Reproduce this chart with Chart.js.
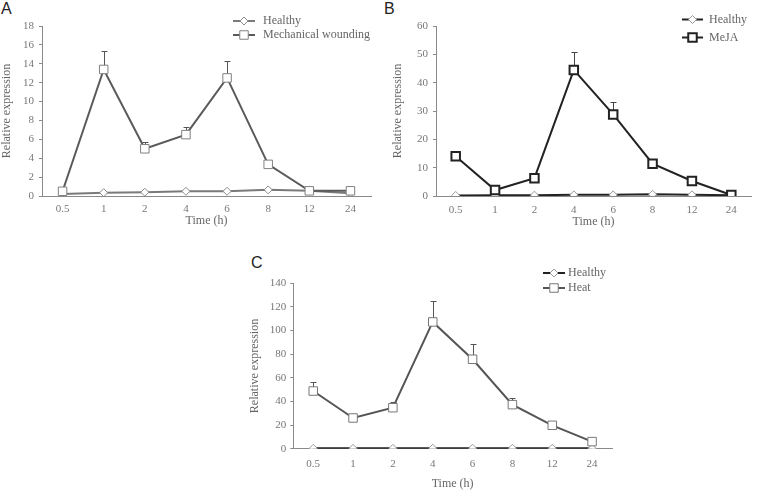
<!DOCTYPE html>
<html><head><meta charset="utf-8">
<script src="https://cdn.jsdelivr.net/npm/chart.js@4"></script>
<style>
html,body{margin:0;padding:0;background:#fff;width:759px;height:491px;overflow:hidden;position:relative}
canvas{position:absolute}
.lab{position:absolute;font-family:"Liberation Sans",Arial,sans-serif;font-size:16px;color:#222;line-height:1}
</style></head><body>
<div class="lab" style="left:1px;top:1px">A</div>
<div class="lab" style="left:384px;top:1px">B</div>
<div class="lab" style="left:251px;top:255px">C</div>
<canvas id="cA" width="380" height="240" style="left:0;top:0"></canvas>
<canvas id="cB" width="379" height="240" style="left:380px;top:0"></canvas>
<canvas id="cC" width="380" height="255" style="left:245px;top:240px"></canvas>
<script>
// ---- data ----
const times = ['0.5','1','2','4','6','8','12','24'];

const healthyA = [0.2, 0.35, 0.4, 0.5, 0.5, 0.65, 0.55, 0.3];
const woundA   = [0.5, 13.4, 5.0, 6.5, 12.5, 3.35, 0.55, 0.55];
const woundErrA = [0, 1.9, 0.75, 0.85, 1.8, 0.2, 0.05, 0.05];
const ticksA = {max: 18, step: 2};

const healthyB = [0.2, 0.3, 0.3, 0.4, 0.4, 0.6, 0.4, 0.3];
const mejaB    = [14, 2.1, 6.3, 44.5, 28.8, 11.4, 5.3, 0.35];
const mejaErrB = [2, 0.3, 0.4, 6.4, 4.3, 0.5, 0.3, 0.1];
const ticksB = {max: 60, step: 10};

const healthyC = [0.3, 0.3, 0.3, 0.4, 0.4, 0.4, 0.3, 0.3];
const heatC    = [48.8, 26, 34.7, 107.3, 75.7, 37.3, 19.8, 6];
const heatErrC = [7.4, 2.5, 5.1, 17.7, 12.7, 5.9, 0.8, 0.5];
const ticksC = {max: 140, step: 20};

// ---- plugins ----
const errPlugin = {
  id: 'errbars',
  beforeDatasetsDraw(chart) {
    const ctx = chart.ctx, y = chart.scales.y;
    chart.data.datasets.forEach((ds, i) => {
      if (!ds.errors) return;
      const meta = chart.getDatasetMeta(i);
      ctx.save();
      ctx.strokeStyle = ds.errColor;
      ctx.lineWidth = 1;
      meta.data.forEach((pt, j) => {
        const e = ds.errors[j];
        if (!e) return;
        const x = Math.round(pt.x) + 0.5;
        const top = Math.round(y.getPixelForValue(ds.data[j] + e)) + 0.5;
        const base = y.getPixelForValue(ds.data[j]);
        ctx.beginPath();
        ctx.moveTo(x, base); ctx.lineTo(x, top);
        ctx.moveTo(x - 3, top); ctx.lineTo(x + 3, top);
        ctx.stroke();
      });
      ctx.restore();
    });
  }
};

const legPlugin = {
  id: 'lgd',
  afterDraw(chart, args, o) {
    const ctx = chart.ctx;
    const ds = chart.data.datasets;
    const list = [ds[1], ds[0]];
    list.forEach((d, k) => {
      const y = o.rows[k];
      const cx = o.x + o.len / 2;
      ctx.save();
      ctx.strokeStyle = d.borderColor;
      ctx.lineWidth = 2;
      ctx.beginPath(); ctx.moveTo(o.x, y); ctx.lineTo(o.x + o.len, y); ctx.stroke();
      ctx.fillStyle = '#fff';
      ctx.strokeStyle = d.pointBorderColor;
      ctx.lineWidth = d.pointBorderWidth;
      ctx.beginPath();
      if (d.pointStyle === 'rect') {
        const h = d.pointRadius * Math.SQRT1_2;
        ctx.rect(cx - h, y - h, 2 * h, 2 * h);
      } else {
        const r = d.pointRadius;
        ctx.moveTo(cx - r, y); ctx.lineTo(cx, y - r); ctx.lineTo(cx + r, y); ctx.lineTo(cx, y + r); ctx.closePath();
      }
      ctx.fill(); ctx.stroke();
      ctx.fillStyle = '#666';
      ctx.font = '12px "Liberation Serif", "Times New Roman", serif';
      ctx.textBaseline = 'middle';
      ctx.fillText(d.label, o.tx, y);
      ctx.restore();
    });
  }
};

const serif = '"Liberation Serif", "Times New Roman", serif';

function build(id, s) {
  return new Chart(document.getElementById(id), {
    type: 'line',
    data: {
      labels: times,
      datasets: [
        { label: s.name, data: s.treat, errors: s.err, errColor: s.errColor,
          borderColor: s.tLine, borderWidth: 2, tension: 0,
          pointStyle: 'rect', pointRadius: 6, pointBorderColor: s.tMark,
          pointBackgroundColor: '#fff', pointBorderWidth: s.tMarkW, order: 0 },
        { label: 'Healthy', data: s.healthy,
          borderColor: s.hLine, borderWidth: 2, tension: 0,
          pointStyle: 'rectRot', pointRadius: 4, pointBorderColor: s.hMark,
          pointBackgroundColor: '#fff', pointBorderWidth: 1, order: 1 }
      ]
    },
    options: {
      responsive: false, animation: false, events: [],
      layout: { padding: s.pad },
      plugins: { legend: { display: false }, tooltip: { enabled: false }, lgd: s.lgd },
      scales: {
        x: {
          offset: true,
          grid: { display: true, drawOnChartArea: false, drawTicks: false },
          border: { display: true, color: '#8a8a8a', width: 1 },
          ticks: { font: { family: serif, size: 11 }, color: '#777', padding: s.xPad, maxRotation: 0 },
          title: { display: true, text: 'Time (h)', font: { family: serif, size: 12 }, color: '#666', padding: 0 },
          afterFit: sc => { sc.height = s.xH; }
        },
        y: {
          min: 0, max: s.ticks.max,
          ticks: { stepSize: s.ticks.step, font: { family: serif, size: 11 }, color: '#777', padding: s.yPad },
          grid: { drawOnChartArea: false, drawTicks: true, tickLength: 3, color: '#8a8a8a' },
          border: { display: true, color: '#8a8a8a', width: 1 },
          title: { display: true, text: 'Relative expression', font: { family: serif, size: 12 }, color: '#666', padding: 0 },
          afterFit: sc => { sc.width = s.yW; }
        }
      }
    },
    plugins: [errPlugin, legPlugin]
  });
}

build('cA', {
  name: 'Mechanical wounding', treat: woundA, err: woundErrA, healthy: healthyA, ticks: ticksA,
  tLine: '#5a5a5a', tMark: '#808080', tMarkW: 1, hLine: '#7a7a7a', hMark: '#8a8a8a', errColor: '#555',
  pad: { left: 0, right: 9, top: 26, bottom: 11.5 }, yW: 42, xH: 32.5, xPad: 7, yPad: 5,
  lgd: { x: 233, len: 22, tx: 263, rows: [21, 35] }
});
build('cB', {
  name: 'MeJA', treat: mejaB, err: mejaErrB, healthy: healthyB, ticks: ticksB,
  tLine: '#222', tMark: '#222', tMarkW: 2, hLine: '#222', hMark: '#999', errColor: '#444',
  pad: { left: 11, right: 2, top: 26, bottom: 11.1 }, yW: 45, xH: 32.9, xPad: 8, yPad: 5,
  lgd: { x: 302, len: 21, tx: 329, rows: [19.5, 37.5] }
});
build('cC', {
  name: 'Heat', treat: heatC, err: heatErrC, healthy: healthyC, ticks: ticksC,
  tLine: '#555', tMark: '#777', tMarkW: 1, hLine: '#222', hMark: '#999', errColor: '#555',
  pad: { left: 3, right: 13, top: 43.3, bottom: 3.5 }, yW: 45.3, xH: 42.8, xPad: 9, yPad: 4,
  lgd: { x: 298, len: 22, tx: 323, rows: [33, 48] }
});
</script>
</body></html>
